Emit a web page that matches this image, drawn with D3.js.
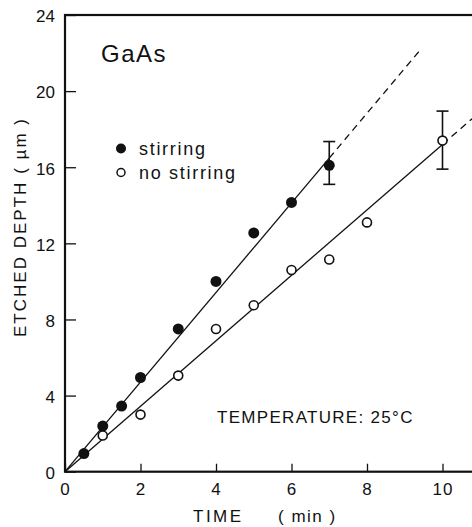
<!DOCTYPE html>
<html>
<head>
<meta charset="utf-8">
<script src="https://cdn.jsdelivr.net/npm/d3@7"></script>
<style>
  body { margin: 0; background: #fff; }
  text { font-family: "Liberation Sans", "DejaVu Sans", sans-serif; fill: #111; }
</style>
</head>
<body>
<svg id="chart" width="472" height="527"></svg>
<script>
// data
var stirTime  = [0.5, 1, 1.5, 2, 3, 4, 5, 6, 7];
var stirDepth = [0.95, 2.4, 3.45, 4.95, 7.5, 10.0, 12.55, 14.15, 16.1];
var noStirTime  = [1, 2, 3, 4, 5, 6, 7, 8, 10];
var noStirDepth = [1.9, 3.0, 5.05, 7.5, 8.75, 10.6, 11.15, 13.1, 17.4];
// error bars [time, low, high]
var stirErr   = [7, 15.1, 17.35];
var noStirErr = [10, 15.9, 18.95];
// fitted lines [t0, d0, t1, d1]
var stirFitSolid   = [0, 0, 7, 16.48];
var stirFitDash    = [7, 16.48, 9.4, 22.14];
var noStirFitSolid = [0, 0, 10, 17.2];
var noStirFitDash  = [10, 17.2, 12, 20.64];
var xTicks = [0, 2, 4, 6, 8, 10];
var yTicks = [0, 4, 8, 12, 16, 20, 24];

var svg = d3.select("#chart");
var x = d3.scaleLinear().domain([0, 12]).range([65, 518]);
var y = d3.scaleLinear().domain([0, 24]).range([471.7, 15]);

// frame
svg.append("rect")
    .attr("x", x(0)).attr("y", y(24))
    .attr("width", x(12) - x(0)).attr("height", y(0) - y(24))
    .style("fill", "none").style("stroke", "#111").style("stroke-width", 2.2);

// y ticks (inward)
var yAxis = d3.axisLeft(y).tickValues(yTicks).tickSizeInner(-11).tickSizeOuter(0).tickPadding(10);
var gy = svg.append("g").attr("transform", "translate(" + x(0) + ",0)").call(yAxis);
gy.select(".domain").remove();
gy.selectAll("line").style("stroke", "#111").style("stroke-width", 1.3);
gy.selectAll("text").style("font-size", "17px").attr("dy", "0.4em");

// x ticks (inward)
var xAxis = d3.axisBottom(x).tickValues(xTicks).tickSizeInner(-8).tickSizeOuter(0).tickPadding(11);
var gx = svg.append("g").attr("transform", "translate(0," + y(0) + ")").call(xAxis);
gx.select(".domain").remove();
gx.selectAll("line").style("stroke", "#111").style("stroke-width", 1.3);
gx.selectAll("text").style("font-size", "17px").style("letter-spacing", "1px");

// axis titles
svg.append("text").attr("x", 193).attr("y", 522).style("font-size", "17px")
    .style("letter-spacing", "2.5px").text("TIME");
svg.append("text").attr("x", 278).attr("y", 522).style("font-size", "17px")
    .style("letter-spacing", "1.5px").text("( min )");
svg.append("text")
    .attr("transform", "translate(26,228) rotate(-90)")
    .attr("text-anchor", "middle")
    .attr("textLength", 218)
    .attr("lengthAdjust", "spacing")
    .style("font-size", "17px")
    .text("ETCHED DEPTH  ( \u00b5m )");

// fit lines
function seg(d, dashed) {
  svg.append("line")
      .attr("x1", x(d[0])).attr("y1", y(d[1]))
      .attr("x2", x(d[2])).attr("y2", y(d[3]))
      .style("stroke", "#111").style("stroke-width", 1.3)
      .style("stroke-dasharray", dashed ? "7,5" : null);
}
seg(stirFitSolid, false);
seg(stirFitDash, true);
seg(noStirFitSolid, false);
seg(noStirFitDash, true);

// error bars
[stirErr, noStirErr].forEach(function(e) {
  var g = svg.append("g").style("stroke", "#111").style("stroke-width", 1.6);
  g.append("line").attr("x1", x(e[0])).attr("x2", x(e[0])).attr("y1", y(e[1])).attr("y2", y(e[2]));
  g.append("line").attr("x1", x(e[0]) - 6).attr("x2", x(e[0]) + 6).attr("y1", y(e[1])).attr("y2", y(e[1]));
  g.append("line").attr("x1", x(e[0]) - 6).attr("x2", x(e[0]) + 6).attr("y1", y(e[2])).attr("y2", y(e[2]));
});

// points
svg.append("g").selectAll("circle")
    .data(d3.zip(stirTime, stirDepth))
  .enter().append("circle")
    .attr("cx", d => x(d[0])).attr("cy", d => y(d[1])).attr("r", 5.5)
    .style("fill", "#111");
svg.append("g").selectAll("circle")
    .data(d3.zip(noStirTime, noStirDepth))
  .enter().append("circle")
    .attr("cx", d => x(d[0])).attr("cy", d => y(d[1])).attr("r", 4.5)
    .style("fill", "#fff").style("stroke", "#111").style("stroke-width", 1.6);

// labels
svg.append("text").attr("x", 101).attr("y", 62).style("font-size", "24px")
    .style("letter-spacing", "1.5px").text("GaAs");
svg.append("circle").attr("cx", 121).attr("cy", 148.5).attr("r", 5).style("fill", "#111");
svg.append("text").attr("x", 139).attr("y", 155).style("font-size", "18px")
    .style("letter-spacing", "1.7px").text("stirring");
svg.append("circle").attr("cx", 121).attr("cy", 172.5).attr("r", 4).style("fill", "#fff")
    .style("stroke", "#111").style("stroke-width", 1.5);
svg.append("text").attr("x", 139).attr("y", 179).style("font-size", "18px")
    .style("letter-spacing", "1.7px").text("no stirring");
svg.append("text").attr("x", 217).attr("y", 423).style("font-size", "17px")
    .style("letter-spacing", "1.3px").text("TEMPERATURE:  25\u00b0C");
</script>
</body>
</html>
